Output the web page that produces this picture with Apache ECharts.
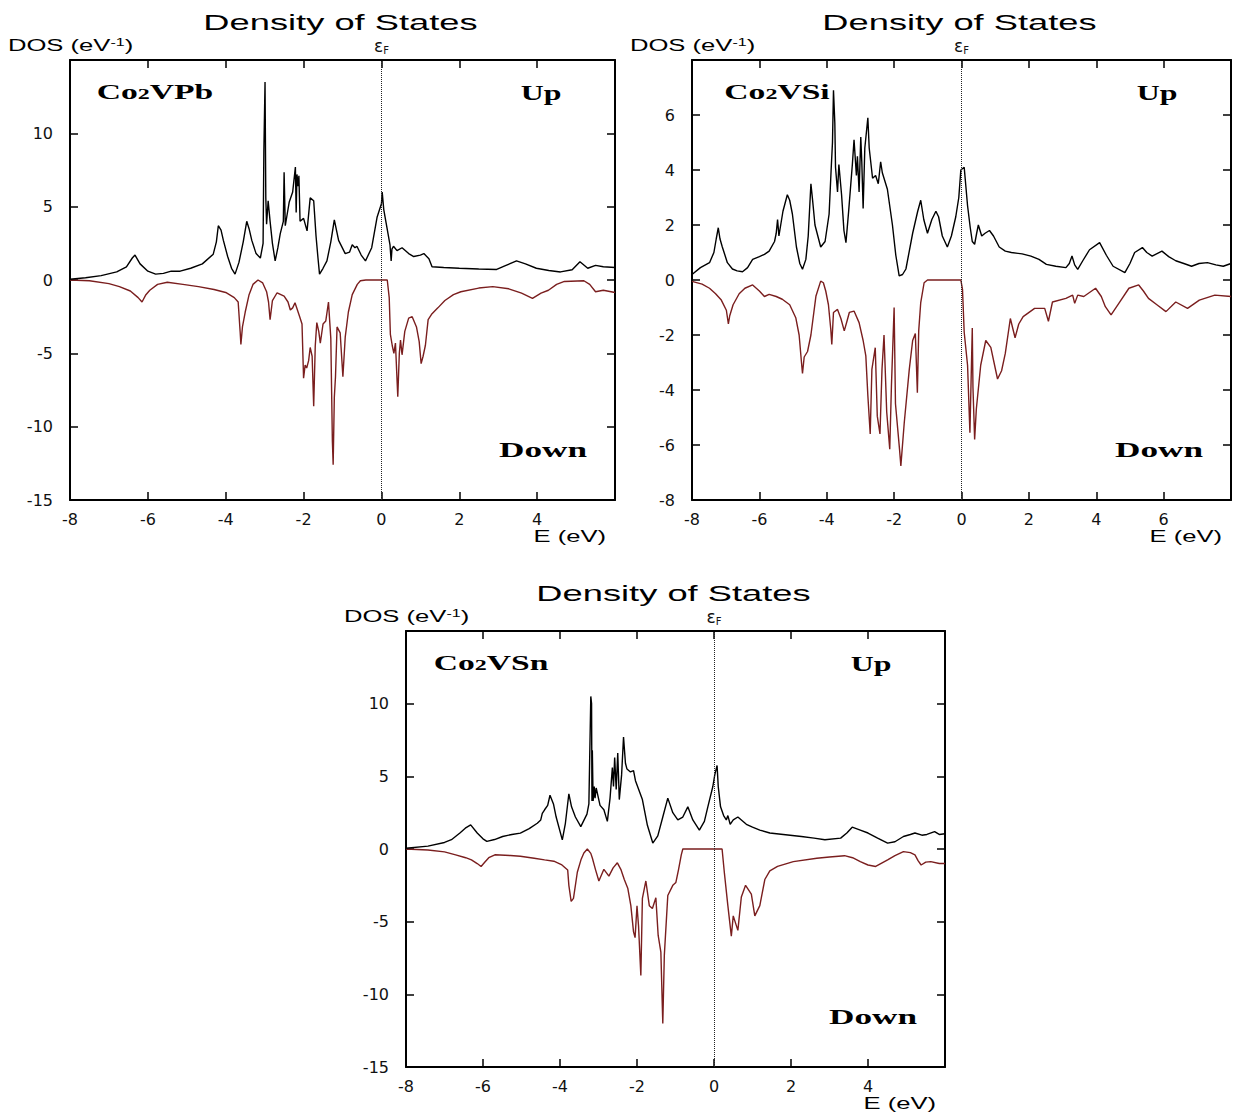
<!DOCTYPE html>
<html>
<head>
<meta charset="utf-8">
<script src="https://cdn.jsdelivr.net/npm/echarts@6/dist/echarts.min.js"></script>
<style>
  html, body { margin: 0; padding: 0; background: #fff; }
  #dos { width: 1235px; height: 1118px; }
</style>
</head>
<body>
<div id="dos"></div>
<script>
// DOS curves, [E (eV), DOS (1/eV)]
const pbUp = [[-8,0.05],[-7.6,0.15],[-7.2,0.3],[-6.8,0.55],[-6.55,0.9],[-6.4,1.5],[-6.33,1.7],[-6.2,1.1],[-6.0,0.6],[-5.8,0.4],[-5.6,0.45],[-5.4,0.6],[-5.17,0.6],[-4.9,0.8],[-4.6,1.1],[-4.32,1.76],[-4.24,2.6],[-4.19,3.7],[-4.12,3.4],[-4.06,2.7],[-3.95,1.6],[-3.85,0.8],[-3.76,0.4],[-3.66,1.2],[-3.55,2.6],[-3.46,4.0],[-3.4,3.5],[-3.33,2.7],[-3.22,1.8],[-3.11,1.5],[-3.04,2.5],[-3.02,8.8],[-2.99,13.5],[-2.97,5.6],[-2.95,3.8],[-2.91,5.4],[-2.86,4.0],[-2.8,2.5],[-2.73,1.3],[-2.66,2.2],[-2.6,3.15],[-2.52,4.0],[-2.5,7.35],[-2.47,3.7],[-2.42,4.5],[-2.37,5.3],[-2.28,6.0],[-2.21,7.7],[-2.19,4.6],[-2.17,7.2],[-2.14,6.4],[-2.12,7.1],[-2.09,4.0],[-2.0,4.2],[-1.91,3.35],[-1.83,5.6],[-1.74,5.4],[-1.68,3.0],[-1.63,1.5],[-1.59,0.4],[-1.5,0.8],[-1.4,1.3],[-1.3,2.6],[-1.21,4.1],[-1.1,2.7],[-0.93,1.8],[-0.82,1.9],[-0.75,2.4],[-0.68,2.2],[-0.63,2.3],[-0.52,1.7],[-0.41,1.3],[-0.25,2.2],[-0.11,4.3],[0.0,5.2],[0.02,6.0],[0.06,4.8],[0.12,3.9],[0.22,2.4],[0.25,1.3],[0.27,2.1],[0.31,2.3],[0.4,2.0],[0.53,2.2],[0.7,1.8],[0.83,1.6],[1.0,1.7],[1.09,1.8],[1.22,1.45],[1.3,0.9],[1.6,0.85],[2.0,0.8],[2.5,0.75],[2.96,0.72],[3.2,1.0],[3.47,1.3],[3.7,1.1],[3.98,0.8],[4.3,0.65],[4.6,0.55],[4.9,0.7],[5.1,1.25],[5.3,0.8],[5.5,1.0],[5.7,0.9],[6.0,0.85]];
const pbDn = [[-8,0],[-7.5,-0.05],[-7.0,-0.25],[-6.73,-0.45],[-6.45,-0.75],[-6.25,-1.2],[-6.15,-1.5],[-6.05,-1.0],[-5.95,-0.7],[-5.75,-0.3],[-5.5,-0.15],[-5.1,-0.3],[-4.7,-0.45],[-4.3,-0.65],[-4.0,-0.85],[-3.78,-1.2],[-3.68,-1.5],[-3.63,-3.5],[-3.61,-4.4],[-3.57,-3.2],[-3.5,-2.2],[-3.4,-1.0],[-3.3,-0.3],[-3.17,0],[-3.05,-0.2],[-2.95,-0.8],[-2.9,-1.5],[-2.86,-2.7],[-2.8,-1.4],[-2.68,-0.87],[-2.5,-1.1],[-2.4,-1.5],[-2.34,-2.05],[-2.28,-1.9],[-2.22,-1.55],[-2.1,-2.5],[-2.04,-3.0],[-2.0,-6.7],[-1.96,-5.8],[-1.92,-6.0],[-1.87,-5.5],[-1.83,-4.6],[-1.78,-5.2],[-1.74,-8.6],[-1.7,-4.5],[-1.66,-2.9],[-1.61,-3.5],[-1.57,-4.3],[-1.5,-3.0],[-1.43,-2.8],[-1.36,-1.5],[-1.3,-4.0],[-1.26,-11.0],[-1.24,-12.6],[-1.21,-8.0],[-1.18,-6.6],[-1.14,-3.2],[-1.06,-3.6],[-0.99,-6.6],[-0.93,-3.9],[-0.85,-2.2],[-0.75,-1.0],[-0.62,-0.3],[-0.54,-0.05],[-0.4,0],[0.15,0],[0.2,-1.2],[0.23,-3.7],[0.28,-4.5],[0.32,-5.0],[0.36,-4.3],[0.42,-7.95],[0.46,-5.0],[0.49,-4.1],[0.53,-5.1],[0.6,-3.5],[0.7,-2.6],[0.79,-2.5],[0.9,-3.2],[0.97,-4.2],[1.02,-5.7],[1.07,-5.2],[1.13,-4.45],[1.2,-2.7],[1.3,-2.3],[1.45,-1.9],[1.63,-1.4],[1.85,-1.0],[2.04,-0.8],[2.5,-0.55],[2.86,-0.45],[3.27,-0.6],[3.6,-0.9],[3.88,-1.25],[4.1,-0.9],[4.29,-0.7],[4.5,-0.3],[4.7,-0.1],[5.2,-0.05],[5.35,-0.3],[5.5,-0.8],[5.7,-0.7],[6.0,-0.85]];

const siUp = [[-8,0.2],[-7.75,0.45],[-7.48,0.63],[-7.35,1.0],[-7.28,1.5],[-7.22,1.9],[-7.17,1.5],[-7.1,1.2],[-6.95,0.63],[-6.8,0.4],[-6.66,0.33],[-6.5,0.3],[-6.35,0.45],[-6.2,0.75],[-6.0,0.85],[-5.85,0.93],[-5.71,1.05],[-5.55,1.4],[-5.5,1.7],[-5.46,2.2],[-5.42,1.6],[-5.3,2.5],[-5.17,3.1],[-5.1,2.9],[-5.02,2.4],[-4.9,1.2],[-4.8,0.6],[-4.72,0.39],[-4.62,0.75],[-4.55,1.6],[-4.47,3.5],[-4.42,2.9],[-4.35,2.0],[-4.18,1.2],[-4.05,1.4],[-3.93,2.4],[-3.87,4.0],[-3.83,5.0],[-3.8,6.9],[-3.76,5.7],[-3.74,4.1],[-3.68,3.2],[-3.64,4.2],[-3.56,3.1],[-3.49,1.8],[-3.43,1.36],[-3.35,2.5],[-3.24,4.2],[-3.19,5.1],[-3.12,3.8],[-3.09,4.5],[-3.04,3.2],[-2.99,5.2],[-2.96,4.3],[-2.92,2.6],[-2.87,4.8],[-2.78,5.9],[-2.74,4.8],[-2.64,3.7],[-2.55,3.8],[-2.47,3.5],[-2.4,4.3],[-2.35,3.9],[-2.2,3.3],[-2.05,2.0],[-1.95,0.9],[-1.85,0.15],[-1.75,0.2],[-1.65,0.4],[-1.45,1.7],[-1.3,2.5],[-1.21,2.9],[-1.12,2.2],[-1.01,1.7],[-0.88,2.2],[-0.76,2.5],[-0.68,2.3],[-0.57,1.6],[-0.42,1.2],[-0.3,1.6],[-0.17,2.3],[-0.08,3.0],[-0.02,4.0],[0.08,4.1],[0.18,2.7],[0.26,1.9],[0.32,1.4],[0.39,1.3],[0.45,1.7],[0.5,2.0],[0.6,1.6],[0.7,1.7],[0.83,1.8],[0.95,1.6],[1.12,1.2],[1.3,1.05],[1.48,1.0],[1.8,0.95],[2.06,0.87],[2.3,0.75],[2.52,0.57],[2.8,0.5],[3.1,0.45],[3.2,0.6],[3.28,0.87],[3.36,0.55],[3.45,0.39],[3.6,0.7],[3.8,1.1],[4.1,1.36],[4.3,0.9],[4.5,0.5],[4.85,0.27],[5.0,0.6],[5.14,1.0],[5.37,1.18],[5.5,1.0],[5.66,0.87],[5.95,1.05],[6.15,0.85],[6.36,0.7],[6.6,0.6],[6.83,0.5],[7.05,0.6],[7.3,0.63],[7.55,0.55],[7.77,0.5],[8,0.6]];
const siDn = [[-8,-0.05],[-7.7,-0.15],[-7.48,-0.3],[-7.3,-0.5],[-7.13,-0.73],[-6.98,-1.1],[-6.92,-1.6],[-6.88,-1.3],[-6.78,-0.9],[-6.6,-0.5],[-6.43,-0.3],[-6.2,-0.18],[-6.0,-0.4],[-5.85,-0.6],[-5.71,-0.52],[-5.5,-0.6],[-5.32,-0.7],[-5.1,-0.9],[-4.92,-1.37],[-4.82,-2.0],[-4.75,-3.0],[-4.72,-3.4],[-4.67,-2.8],[-4.57,-2.6],[-4.47,-2.0],[-4.32,-0.58],[-4.18,-0.04],[-4.1,-0.1],[-4.03,-0.4],[-3.95,-0.9],[-3.88,-1.8],[-3.85,-2.34],[-3.8,-1.18],[-3.68,-1.07],[-3.58,-1.4],[-3.48,-1.85],[-3.4,-1.5],[-3.33,-1.18],[-3.19,-1.13],[-3.04,-1.55],[-2.92,-2.2],[-2.84,-2.76],[-2.78,-4.2],[-2.71,-5.6],[-2.66,-3.25],[-2.56,-2.46],[-2.5,-4.95],[-2.42,-5.6],[-2.36,-3.25],[-2.3,-2.0],[-2.22,-4.8],[-2.13,-6.15],[-2.08,-3.85],[-2.0,-1.0],[-1.96,-4.5],[-1.84,-6.15],[-1.8,-6.76],[-1.7,-5.2],[-1.55,-3.25],[-1.45,-2.2],[-1.37,-1.95],[-1.31,-4.1],[-1.27,-1.85],[-1.21,-0.82],[-1.11,-0.1],[-1.01,0],[-0.02,0],[0.03,-0.34],[0.08,-1.9],[0.18,-3.1],[0.25,-5.55],[0.32,-1.75],[0.34,-3.9],[0.39,-5.8],[0.44,-4.7],[0.57,-3.1],[0.72,-2.2],[0.87,-2.45],[1.0,-3.2],[1.07,-3.6],[1.19,-3.3],[1.3,-2.67],[1.45,-1.4],[1.59,-2.1],[1.7,-1.6],[1.83,-1.33],[2.17,-1.03],[2.47,-1.03],[2.58,-1.5],[2.7,-0.8],[3.1,-0.67],[3.3,-0.55],[3.36,-0.85],[3.45,-0.55],[3.63,-0.6],[3.98,-0.3],[4.15,-0.6],[4.27,-0.97],[4.44,-1.27],[4.67,-0.85],[4.97,-0.3],[5.26,-0.18],[5.4,-0.4],[5.55,-0.67],[5.8,-0.9],[6.07,-1.15],[6.36,-0.8],[6.71,-1.03],[7.06,-0.73],[7.52,-0.55],[8,-0.6]];

const snUp = [[-8,0.05],[-7.43,0.2],[-7.0,0.45],[-6.82,0.64],[-6.6,1.1],[-6.46,1.43],[-6.32,1.66],[-6.15,1.1],[-6.0,0.7],[-5.9,0.52],[-5.7,0.65],[-5.49,0.86],[-5.25,1.0],[-5.03,1.09],[-4.8,1.4],[-4.59,1.77],[-4.5,2.0],[-4.46,2.45],[-4.4,2.7],[-4.32,3.0],[-4.26,3.7],[-4.17,3.1],[-4.1,2.2],[-3.94,0.63],[-3.86,1.77],[-3.77,3.8],[-3.7,2.9],[-3.6,2.2],[-3.46,1.54],[-3.3,2.4],[-3.25,3.1],[-3.2,10.5],[-3.18,10.0],[-3.17,3.3],[-3.16,6.8],[-3.14,3.3],[-3.11,4.3],[-3.09,3.5],[-3.06,4.2],[-2.96,3.0],[-2.86,2.7],[-2.77,1.9],[-2.7,3.5],[-2.64,5.6],[-2.61,4.3],[-2.58,6.3],[-2.54,4.1],[-2.5,6.6],[-2.46,3.4],[-2.4,5.1],[-2.35,7.7],[-2.3,5.9],[-2.26,5.5],[-2.17,5.3],[-2.09,5.4],[-2.04,4.7],[-1.86,3.4],[-1.73,1.63],[-1.59,0.41],[-1.46,0.9],[-1.33,2.2],[-1.2,3.5],[-1.07,2.5],[-0.94,2.0],[-0.81,2.2],[-0.68,2.9],[-0.55,2.0],[-0.38,1.3],[-0.25,1.9],[-0.16,2.9],[-0.03,4.3],[0.02,5.1],[0.08,5.75],[0.11,4.3],[0.17,2.9],[0.25,2.3],[0.32,2.0],[0.36,2.3],[0.42,1.7],[0.5,2.0],[0.62,2.2],[0.84,1.7],[1.0,1.5],[1.19,1.3],[1.45,1.1],[1.8,1.0],[2.27,0.86],[2.6,0.75],[2.88,0.64],[3.29,0.75],[3.45,1.1],[3.59,1.5],[3.8,1.3],[4.0,1.1],[4.25,0.75],[4.51,0.4],[4.7,0.5],[4.92,0.86],[5.1,1.0],[5.22,1.1],[5.4,0.95],[5.53,1.0],[5.73,1.2],[5.85,1.0],[6.0,1.05]];
const snDn = [[-8,0],[-7.43,-0.07],[-7.0,-0.2],[-6.71,-0.4],[-6.45,-0.6],[-6.3,-0.75],[-6.15,-1.0],[-6.05,-1.2],[-5.95,-0.9],[-5.85,-0.6],[-5.69,-0.4],[-5.29,-0.45],[-5.03,-0.5],[-4.67,-0.64],[-4.4,-0.75],[-4.16,-0.84],[-3.95,-1.1],[-3.8,-1.45],[-3.77,-2.5],[-3.71,-3.6],[-3.65,-3.4],[-3.55,-1.6],[-3.45,-0.7],[-3.38,-0.27],[-3.29,0],[-3.2,-0.3],[-3.16,-0.62],[-3.08,-1.4],[-2.99,-2.2],[-2.86,-1.4],[-2.73,-1.87],[-2.62,-1.3],[-2.51,-0.95],[-2.42,-1.4],[-2.33,-2.1],[-2.24,-2.7],[-2.16,-3.9],[-2.09,-5.7],[-2.05,-6.1],[-2.0,-3.9],[-1.96,-5.3],[-1.9,-8.7],[-1.86,-3.4],[-1.77,-2.2],[-1.68,-3.9],[-1.6,-4.1],[-1.51,-3.35],[-1.45,-5.95],[-1.38,-7.1],[-1.33,-12.0],[-1.29,-7.3],[-1.2,-3.2],[-1.07,-2.5],[-0.99,-2.3],[-0.92,-1.4],[-0.85,-0.4],[-0.81,0],[0.21,0],[0.27,-1.65],[0.36,-3.9],[0.45,-6.0],[0.5,-4.6],[0.62,-5.6],[0.71,-3.3],[0.82,-2.5],[0.97,-3.1],[1.06,-4.6],[1.19,-3.9],[1.32,-2.1],[1.45,-1.5],[1.65,-1.2],[2.06,-0.87],[2.67,-0.64],[3.0,-0.55],[3.39,-0.46],[3.6,-0.6],[3.8,-0.87],[4.0,-1.1],[4.2,-1.2],[4.51,-0.75],[4.7,-0.45],[4.92,-0.18],[5.1,-0.25],[5.22,-0.4],[5.3,-0.8],[5.38,-1.1],[5.5,-0.9],[5.63,-0.87],[5.85,-1.0],[6.0,-1.0]];

// axis ranges per panel
const compounds = ["VPb", "VSi", "VSn"];
const xMaxes = [6, 8, 6];
const yRanges = [[-15, 15, 5], [-8, 8, 2], [-15, 15, 5]];

// panel boxes (layout only)
const boxes = [
  { left: 70, top: 60, width: 545, height: 440 },
  { left: 692, top: 60, width: 539, height: 440 },
  { left: 406, top: 631, width: 539, height: 436 }
];

const SX = 1.6; // the source figure is stretched horizontally
const sans = '"Liberation Sans", Arial, sans-serif';
const serif = '"Liberation Serif", "Times New Roman", serif';
const dejavu = '"DejaVu Sans", sans-serif';
const downColor = "#7a1e1e";

function txt(x, y, text, style, sx) {
  return {
    type: "text", x: x, y: y, scaleX: sx || SX, silent: true,
    style: Object.assign({ text: text, fill: "#000", align: "center", verticalAlign: "middle" }, style)
  };
}

const grid = [], xAxis = [], yAxis = [], series = [], graphic = [];
const tickStyle = { show: true, inside: true, length: 8, lineStyle: { color: "#000", width: 1.5 } };
const lineStyle = { show: true, onZero: false, lineStyle: { color: "#000", width: 2 } };
const labelFont = { color: "#111", fontSize: 16, fontFamily: dejavu };

boxes.forEach(function (b, i) {
  grid.push({ left: b.left, top: b.top, width: b.width, height: b.height });
  const yr = yRanges[i];

  xAxis.push({
    type: "value", gridIndex: i, position: "bottom", min: -8, max: xMaxes[i], interval: 2,
    axisLine: lineStyle, axisTick: tickStyle, splitLine: { show: false },
    axisLabel: Object.assign({ showMaxLabel: false, margin: 11 }, labelFont)
  });
  // mirrored top axis: ticks only, plus the Fermi level mark
  xAxis.push({
    type: "value", gridIndex: i, position: "top", min: -8, max: xMaxes[i], interval: 2,
    axisLine: lineStyle, axisTick: tickStyle, splitLine: { show: false },
    axisLabel: {
      margin: 5, fontSize: 16, fontFamily: dejavu, color: "#111",
      formatter: function (v) { return v === 0 ? "{e|\u03b5}{f|F}" : ""; },
      rich: {
        e: { fontSize: 17, fontFamily: dejavu, color: "#111" },
        f: { fontSize: 10, fontFamily: dejavu, color: "#111", padding: [9, 0, 0, 0] }
      }
    }
  });
  yAxis.push({
    type: "value", gridIndex: i, position: "left", min: yr[0], max: yr[1], interval: yr[2],
    axisLine: lineStyle, axisTick: tickStyle, splitLine: { show: false },
    axisLabel: Object.assign({ showMaxLabel: false, margin: 17 }, labelFont)
  });
  yAxis.push({
    type: "value", gridIndex: i, position: "right", min: yr[0], max: yr[1], interval: yr[2],
    axisLine: lineStyle, axisTick: tickStyle, splitLine: { show: false },
    axisLabel: { show: false }
  });

  const data = [[pbUp, pbDn], [siUp, siDn], [snUp, snDn]][i];
  series.push({
    name: "Up", type: "line", xAxisIndex: 2 * i, yAxisIndex: 2 * i, data: data[0],
    showSymbol: false, lineStyle: { color: "#000", width: 1.4 }, z: 3,
    markLine: {
      silent: true, symbol: "none", label: { show: false },
      lineStyle: { color: "#222", width: 1, type: "dotted" },
      data: [{ xAxis: 0 }]
    }
  });
  series.push({
    name: "Down", type: "line", xAxisIndex: 2 * i, yAxisIndex: 2 * i, data: data[1],
    showSymbol: false, lineStyle: { color: downColor, width: 1.4 }, z: 2
  });

  // titles and annotations
  const cx = b.left + b.width / 2;
  graphic.push(txt(cx - 2, b.top - 38, "Density of States", { fontSize: 22, fontFamily: sans }, 1.65));
  graphic.push(txt(b.left - 62, b.top - 14, "DOS (eV{s|-1})", {
    fontSize: 16, fontFamily: sans, align: "left",
    rich: { s: { fontSize: 10, fontFamily: sans, verticalAlign: "top", padding: [0, 0, 6, 0] } }
  }));
  graphic.push(txt(b.left + 85, b.top + 32, "Co{s|2}" + compounds[i], {
    fontSize: 21, fontFamily: serif, fontWeight: "bold",
    rich: { s: { fontSize: 15, fontFamily: serif, fontWeight: "bold", padding: [3, 0, 0, 0] } }
  }));
  graphic.push(txt(b.left + b.width - 74, b.top + 33, "Up", { fontSize: 22, fontFamily: serif, fontWeight: "bold" }, 1.45));
  graphic.push(txt(b.left + b.width - 72, b.top + b.height - 50, "Down", { fontSize: 22, fontFamily: serif, fontWeight: "bold" }));
  graphic.push(txt(b.left + b.width - 9, b.top + b.height + 37, "E (eV)", { fontSize: 16, fontFamily: sans, align: "right" }));
});

const chart = echarts.init(document.getElementById("dos"), null, { renderer: "svg" });
chart.setOption({
  animation: false,
  backgroundColor: "#fff",
  grid: grid,
  xAxis: xAxis,
  yAxis: yAxis,
  series: series,
  graphic: graphic
});
</script>
</body>
</html>
